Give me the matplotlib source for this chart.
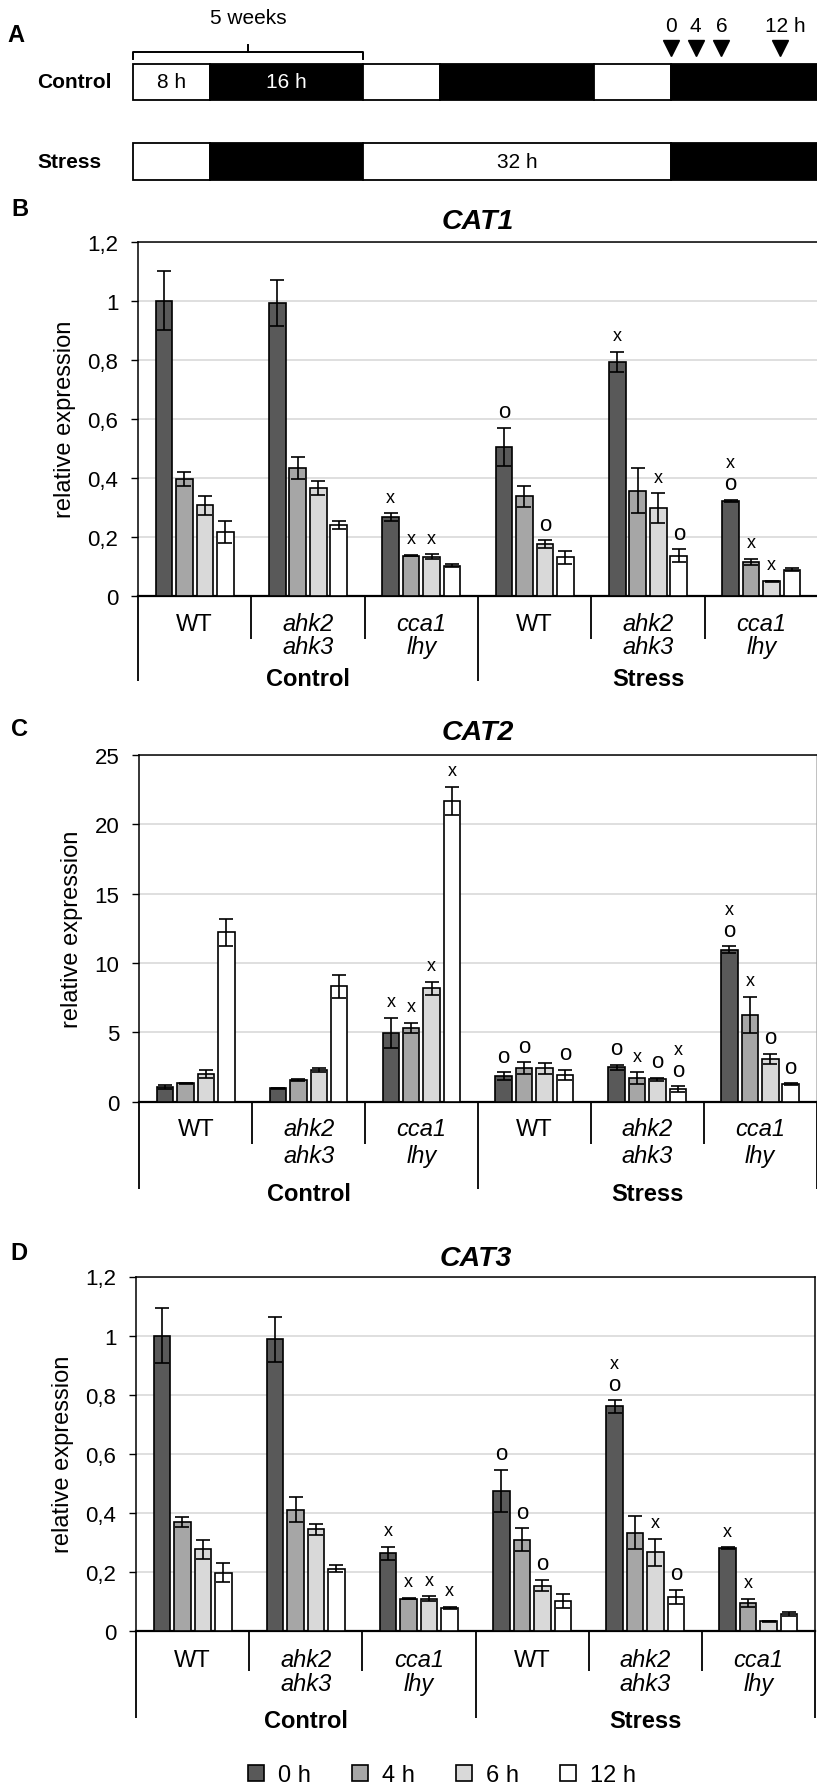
import numpy as np
import matplotlib
matplotlib.use("Agg")
import matplotlib.pyplot as plt
import matplotlib.transforms as mtransforms
from matplotlib.patches import Patch, Rectangle

plt.rcParams['font.family'] = ['Liberation Sans', 'DejaVu Sans']

# ---------------- data ----------------
conditions = ['Control', 'Stress']
genotypes = ['WT', 'ahk2\nahk3', 'cca1\nlhy']
times = ['0 h', '4 h', '6 h', '12 h']
bar_colors = ['#595959', '#a6a6a6', '#d9d9d9', '#ffffff']

# rows: Control WT, ahk2 ahk3, cca1 lhy, Stress WT, ahk2 ahk3, cca1 lhy
# columns: 0 h, 4 h, 6 h, 12 h
cat1_mean = [[1.000, 0.395, 0.307, 0.217],
             [0.992, 0.433, 0.366, 0.240],
             [0.266, 0.136, 0.132, 0.102],
             [0.505, 0.337, 0.175, 0.130],
             [0.793, 0.356, 0.296, 0.136],
             [0.322, 0.115, 0.049, 0.088]]
cat1_err = [[0.100, 0.023, 0.032, 0.037],
            [0.078, 0.038, 0.023, 0.013],
            [0.013, 0.002, 0.008, 0.004],
            [0.064, 0.036, 0.013, 0.023],
            [0.034, 0.077, 0.051, 0.022],
            [0.004, 0.010, 0.002, 0.005]]
# significance letters, listed from bottom to top
cat1_sig = [['', '', '', ''],
            ['', '', '', ''],
            ['x', 'x', 'x', ''],
            ['o', '', 'o', ''],
            ['x', '', 'x', 'o'],
            ['ox', 'x', 'x', '']]

cat2_mean = [[1.04, 1.32, 2.00, 12.21],
             [0.96, 1.56, 2.28, 8.32],
             [4.95, 5.31, 8.17, 21.68],
             [1.83, 2.41, 2.41, 1.92],
             [2.48, 1.71, 1.61, 0.92],
             [10.96, 6.27, 3.08, 1.28]]
cat2_err = [[0.15, 0.06, 0.30, 0.96],
            [0.03, 0.08, 0.15, 0.84],
            [1.09, 0.39, 0.48, 1.04],
            [0.29, 0.43, 0.38, 0.39],
            [0.17, 0.41, 0.12, 0.21],
            [0.24, 1.30, 0.36, 0.05]]
cat2_sig = [['', '', '', ''],
            ['', '', '', ''],
            ['x', 'x', 'x', 'x'],
            ['o', 'o', '', 'o'],
            ['o', 'x', 'o', 'ox'],
            ['ox', 'x', 'o', 'o']]

cat3_mean = [[0.999, 0.370, 0.277, 0.198],
             [0.988, 0.411, 0.344, 0.211],
             [0.264, 0.110, 0.110, 0.078],
             [0.475, 0.309, 0.154, 0.102],
             [0.760, 0.333, 0.267, 0.116],
             [0.280, 0.096, 0.033, 0.058]]
cat3_err = [[0.093, 0.017, 0.032, 0.031],
            [0.076, 0.043, 0.018, 0.011],
            [0.022, 0.002, 0.008, 0.004],
            [0.071, 0.038, 0.020, 0.023],
            [0.021, 0.057, 0.046, 0.024],
            [0.004, 0.014, 0.002, 0.008]]
cat3_sig = [['', '', '', ''],
            ['', '', '', ''],
            ['x', 'x', 'x', 'x'],
            ['o', 'o', 'o', ''],
            ['ox', '', 'x', 'o'],
            ['x', 'x', '', '']]

ticks_small = [0, 0.2, 0.4, 0.6, 0.8, 1.0, 1.2]
ticklabels_small = ['0', '0,2', '0,4', '0,6', '0,8', '1', '1,2']
ticks_cat2 = [0, 5, 10, 15, 20, 25]
ticklabels_cat2 = ['0', '5', '10', '15', '20', '25']

# panel A schedule (hours): white/black segments
control_light = [8, 16, 8, 16, 8, 40]
stress_light = [8, 16, 32, 40]
control_seg_labels = ['8 h', '16 h', '', '', '', '']
stress_seg_labels = ['', '', '32 h', '']
sample_hours = [56.0, 58.6, 61.3, 67.4]
sample_labels = ['0', '4', '6', '12 h']

# ---------------- figure ----------------
W, H, DPI = 817, 1790, 100
fig = plt.figure(figsize=(W / DPI, H / DPI), dpi=DPI)


def px_axes(left, top, right, bottom):
    return fig.add_axes([left / W, 1 - bottom / H, (right - left) / W, (bottom - top) / H])


def fig_text(x, y, s, **kw):
    fig.text(x / W, 1 - y / H, s, **kw)


def panel(ax, means, errs, sig, ticks, ticklabels, title, geo):
    hpx = geo['h']
    ngroups = len(means)
    x = np.arange(ngroups) + 0.5
    pitch, width = 0.181, 0.146
    for j in range(len(times)):
        vals = [m[j] for m in means]
        e = [er[j] for er in errs]
        ax.bar(x + (j - 1.5) * pitch, vals, width, yerr=e, color=bar_colors[j],
               edgecolor='black', linewidth=1.2, zorder=3,
               error_kw=dict(elinewidth=1.2, capsize=4.7, capthick=1.2, ecolor='black', zorder=4))
        for i in range(ngroups):
            for k, ch in enumerate(sig[i][j]):
                off = 16 + 21 * k
                ax.annotate(ch, xy=(x[i] + (j - 1.5) * pitch, vals[i] + e[i]),
                            xytext=(0, off * 72 / DPI), textcoords='offset points',
                            ha='center', va='center', fontsize=13 if ch == 'x' else 16,
                            annotation_clip=False)

    ax.set_xlim(0, ngroups)
    ax.set_ylim(ticks[0], ticks[-1])
    ax.set_yticks(ticks)
    ax.set_yticklabels(ticklabels)
    ax.set_xticks([])
    ax.tick_params(axis='y', direction='out', length=4.7, width=1, pad=9.5, labelsize=16)
    ax.yaxis.grid(True, color='#d9d9d9', linewidth=1.2)
    ax.set_axisbelow(True)
    for side in ['left', 'top', 'right']:
        ax.spines[side].set_color('black')
        ax.spines[side].set_linewidth(1.1)
    ax.spines['right'].set_color(geo.get('right', 'black'))
    ax.spines['bottom'].set_linewidth(1.6)

    blend = mtransforms.blended_transform_factory(ax.transData, ax.transAxes)
    # group separators below the axis
    for k in range(ngroups + 1):
        length = geo['long'] if k % 3 == 0 else geo['short']
        ax.plot([k, k], [0, -length / hpx], transform=blend, color='black',
                lw=1.3, clip_on=False, solid_capstyle='butt')

    def below(px):
        return mtransforms.offset_copy(blend, fig=fig, x=0, y=-px, units='dots')

    for i in range(ngroups):
        lines = genotypes[i % 3].split('\n')
        style = 'normal' if lines[0] == 'WT' else 'italic'
        for n, line in enumerate(lines):
            ax.text(x[i], 0, line, transform=below(geo['lab'][n]), ha='center', va='center',
                    fontsize=17, fontstyle=style)
    for c, cond in enumerate(conditions):
        ax.text(1.5 + 3 * c, 0, cond, transform=below(geo['lab'][2]), ha='center',
                va='center', fontsize=17, fontweight='bold')

    ax.text(geo['ylab'], 0.5, 'relative expression', transform=ax.transAxes, rotation=90,
            ha='center', va='center', fontsize=17)
    above = mtransforms.offset_copy(ax.transAxes, fig=fig, x=0, y=geo['title'], units='dots')
    ax.text(0.5, 1, title, transform=above, ha='center', va='center', fontsize=20.5,
            fontweight='bold', fontstyle='italic')


# Panel B
axB = px_axes(138, 242.7, 818, 596.7)
panel(axB, cat1_mean, cat1_err, cat1_sig, ticks_small, ticklabels_small, 'CAT1',
      dict(h=354, short=43, long=85, lab=(28, 51, 83), ylab=-0.107, title=21))
# Panel C
axC = px_axes(139.3, 756, 816.5, 1102.7)
panel(axC, cat2_mean, cat2_err, cat2_sig, ticks_cat2, ticklabels_cat2, 'CAT2',
      dict(h=346.7, short=42, long=87, lab=(27, 54, 92), ylab=-0.100, title=23, right='#b0b0b0'))
# Panel D
axD = px_axes(136, 1277.5, 815, 1632)
panel(axD, cat3_mean, cat3_err, cat3_sig, ticks_small, ticklabels_small, 'CAT3',
      dict(h=354.5, short=40, long=87, lab=(29, 53, 90), ylab=-0.107, title=19))

# legend
handles = [Patch(facecolor=c, edgecolor='black', linewidth=1.2) for c in bar_colors]
fig.legend(handles, times, loc='center', bbox_to_anchor=(442 / W, 1 - 1776 / H), ncol=4,
           frameon=False, fontsize=17, handlelength=0.68, handleheight=0.68,
           handletextpad=0.59, columnspacing=1.74, borderpad=0, borderaxespad=0)

# Panel A: light schedule
pxh = 9.6
axA = px_axes(133, 0, 817, 200)
axA.set_xlim(0, (817 - 133) / pxh)
axA.set_ylim(200, 0)
axA.axis('off')


def schedule(durations, labels, y0, y1):
    t = 0
    for n, (d, lab) in enumerate(zip(durations, labels)):
        fc = 'white' if n % 2 == 0 else 'black'
        axA.add_patch(Rectangle((t, y0), d, y1 - y0, facecolor=fc, edgecolor='black',
                                linewidth=1.3, clip_on=False))
        if lab:
            axA.text(t + d / 2, (y0 + y1) / 2, lab, ha='center', va='center', fontsize=15,
                     color='black' if fc == 'white' else 'white')
        t += d


schedule(control_light, control_seg_labels, 65, 101)
schedule(stress_light, stress_seg_labels, 144.3, 181)

day = control_light[0] + control_light[1]
axA.plot([0, 0, day, day], [60, 53, 53, 60], color='black', lw=1.4, clip_on=False)
axA.plot([day / 2, day / 2], [53, 46], color='black', lw=1.4, clip_on=False)
axA.text(day / 2, 19, '5 weeks', ha='center', va='center', fontsize=15)
axA.plot(sample_hours, [48.5] * len(sample_hours), ls='none', marker='v', ms=12,
         color='black', clip_on=False)
for hpos, lab in zip(sample_hours, sample_labels):
    shift = 0.6 if lab.endswith('h') else 0
    axA.text(hpos + shift, 27, lab, ha='center', va='center', fontsize=15)

fig_text(37, 83, 'Control', ha='left', va='center', fontsize=15, fontweight='bold')
fig_text(37, 163, 'Stress', ha='left', va='center', fontsize=15, fontweight='bold')

# panel letters
for letter, (lx, ly) in zip('ABCD', [(16, 36), (20, 209), (20, 730), (19, 1254)]):
    fig_text(lx, ly, letter, ha='center', va='center', fontsize=17, fontweight='bold')

fig.savefig('out.png', dpi=DPI)
